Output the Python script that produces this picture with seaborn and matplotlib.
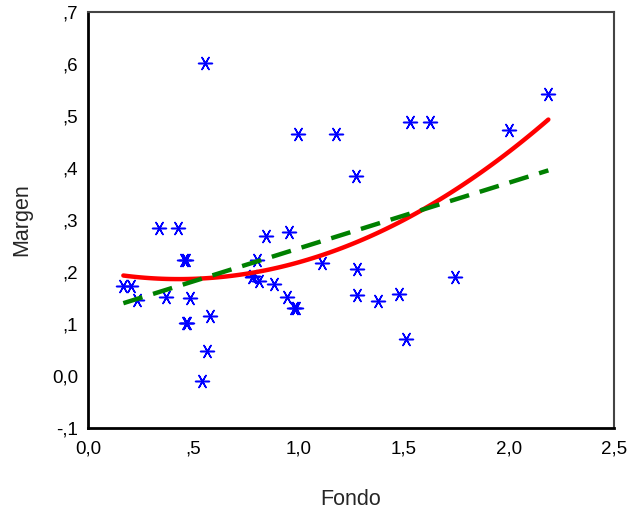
import numpy as np
import pandas as pd
import matplotlib
matplotlib.use("Agg")
import matplotlib.pyplot as plt
import seaborn as sns

fondo = [0.556, 0.168, 0.203, 0.231, 0.337, 0.429, 0.456, 0.466, 0.371, 0.485,
         0.465, 0.470, 0.580, 0.564, 0.540, 0.778, 0.782, 0.814, 0.805, 0.846,
         0.886, 0.955, 0.944, 0.980, 0.988, 0.997, 1.114, 1.179, 1.272, 1.280,
         1.280, 1.378, 1.478, 1.511, 1.530, 1.625, 1.746, 2.000, 2.188]
margen = [0.602, 0.173, 0.173, 0.147, 0.285, 0.285, 0.224, 0.223, 0.152, 0.150,
          0.101, 0.101, 0.115, 0.049, -0.010, 0.190, 0.193, 0.182, 0.224, 0.269,
          0.177, 0.277, 0.151, 0.131, 0.130, 0.465, 0.218, 0.465, 0.385, 0.206,
          0.155, 0.144, 0.158, 0.071, 0.488, 0.488, 0.190, 0.474, 0.542]

xticks = [0.0, 0.5, 1.0, 1.5, 2.0, 2.5]
xticklabels = ["0,0", ",5", "1,0", "1,5", "2,0", "2,5"]
yticks = [-0.1, 0.0, 0.1, 0.2, 0.3, 0.4, 0.5, 0.6, 0.7]
yticklabels = ["-,1", "0,0", ",1", ",2", ",3", ",4", ",5", ",6", ",7"]

df = pd.DataFrame({"Fondo": fondo, "Margen": margen})

sns.set_style("white")
plt.rcParams["font.family"] = ["Liberation Sans", "DejaVu Sans"]

fig = plt.figure(figsize=(6.32, 5.12), dpi=100)
ax = fig.add_axes([88 / 632, 1 - 428 / 512, (614 - 88) / 632, (428 - 12) / 512])

sns.scatterplot(data=df, x="Fondo", y="Margen", ax=ax, marker=(6, 2, 30),
                color="#0000ff", s=100, linewidth=1.1, edgecolor="#0000ff", zorder=3)
sns.regplot(data=df, x="Fondo", y="Margen", ax=ax, order=2, ci=None, scatter=False,
            line_kws=dict(color="#ff0000", lw=3.2, zorder=4))
sns.regplot(data=df, x="Fondo", y="Margen", ax=ax, order=1, ci=None, scatter=False,
            line_kws=dict(color="#008000", lw=3.2, dashes=(4.5, 2.5), zorder=5))

ax.set_xlim(0, 2.5)
ax.set_ylim(-0.1, 0.7)
ax.set_xticks(xticks)
ax.set_xticklabels(xticklabels)
ax.set_yticks(yticks)
ax.set_yticklabels(yticklabels)
ax.tick_params(axis="both", direction="out", length=3, width=2, colors="black",
               labelsize=13.5, pad=4, labelcolor="black")
ax.tick_params(axis="x", pad=6)
ax.set_xlabel("Fondo", fontsize=15.5, labelpad=23)
ax.set_ylabel("Margen", fontsize=15.5, labelpad=14)

for side in ["left", "bottom"]:
    ax.spines[side].set_color("black")
    ax.spines[side].set_linewidth(2)
for side in ["top", "right"]:
    ax.spines[side].set_visible(True)
    ax.spines[side].set_color("#444444")
    ax.spines[side].set_linewidth(1.5)

fig.savefig("out.png", dpi=100)
